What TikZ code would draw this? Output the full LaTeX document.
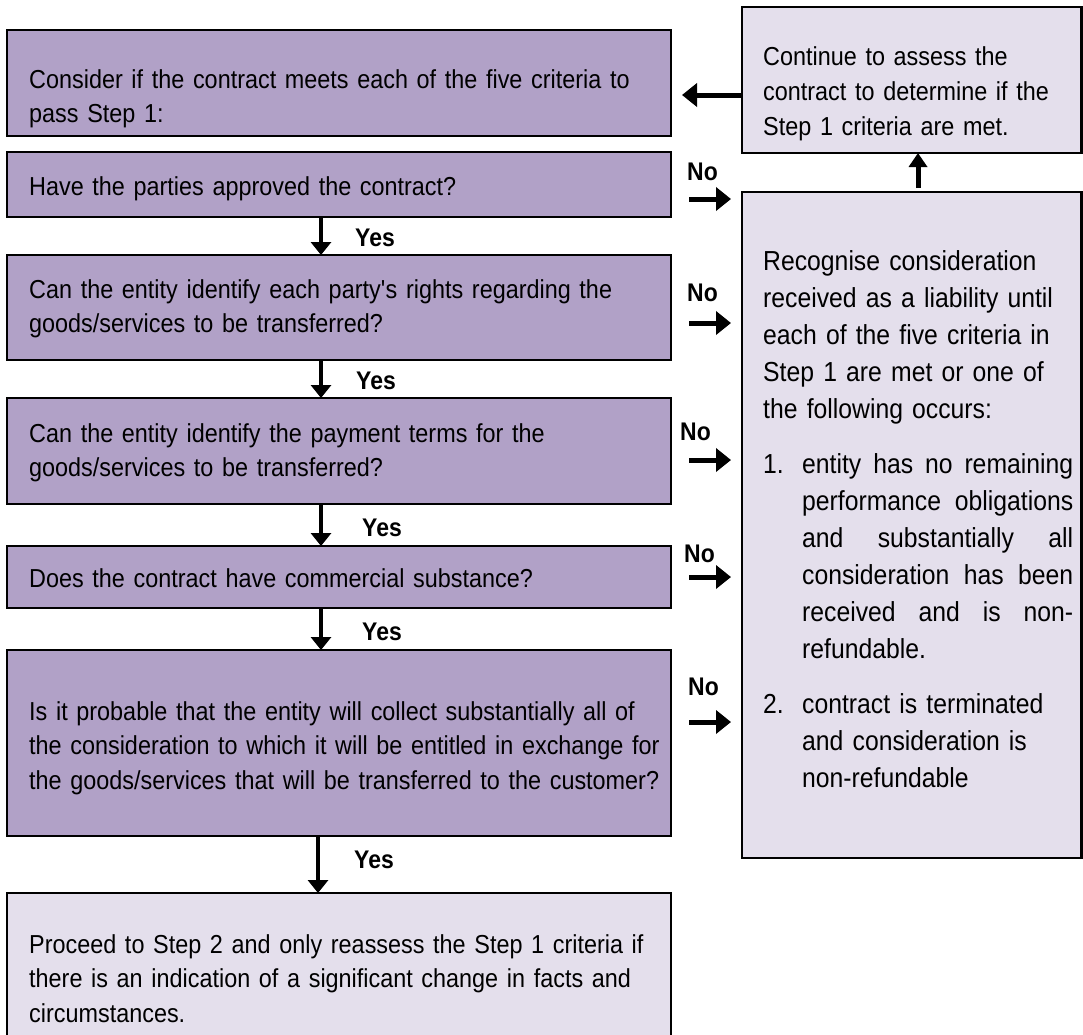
\documentclass[tikz,border=0pt]{standalone}
\usepackage{fontspec}
\setmainfont{Liberation Sans}[FakeStretch=0.9]
\usetikzlibrary{arrows.meta}
\definecolor{dpurp}{HTML}{B1A1C7}
\definecolor{lpurp}{HTML}{E4DFEC}
\newcommand\txtfont{\fontsize{26}{34.5}\selectfont}
\newcommand\rtfont{\fontsize{27.5}{37}\selectfont}
\newcommand\lblfont{\fontsize{25.5}{30}\selectfont\bfseries}
\newcommand\fst{\rule{0pt}{30pt}}
\newcommand\jline[1]{\hbox to 271pt{#1}}
\begin{document}
\begin{tikzpicture}[x=1pt,y=-1pt,
  box/.style={draw=black, line width=2.5pt, inner sep=0pt, outer sep=0pt},
  dbox/.style={box, fill=dpurp, minimum width=664pt},
  lbox/.style={box, fill=lpurp},
  txt/.style={anchor=north west, inner sep=0pt, text width=#1, align=left},
  lbl/.style={anchor=base west, inner sep=0pt, font=\lblfont},
  yarr/.style={line width=4.5pt, -{Triangle[width=20pt,length=13pt]}},
  narr/.style={line width=5pt, -{Triangle[width=23pt,length=15pt]}},
  uarr/.style={line width=5pt, -{Triangle[width=18pt,length=14pt]}},
]
\useasboundingbox (0,0) rectangle (1083,1034);
\fill[white] (0,0) rectangle (1083,1034);

% left column boxes
\node[dbox, minimum height=106pt] (b1) at (339,83) {};
\node[dbox, minimum height=65pt]  (b2) at (339,184.5) {};
\node[dbox, minimum height=105pt] (b3) at (339,307.5) {};
\node[dbox, minimum height=106pt] (b4) at (339,451) {};
\node[dbox, minimum height=62pt]  (b5) at (339,577) {};
\node[dbox, minimum height=186pt] (b6) at (339,743) {};
\node[lbox, minimum width=664pt, minimum height=145pt] (b7) at (339,965.5) {};

% right column boxes
\node[lbox, minimum width=339.5pt, minimum height=146pt] (r1) at (911.75,80) {};
\node[lbox, minimum width=339.5pt, minimum height=666pt] (r2) at (911.75,525) {};

% texts
\node[txt=720pt, font=\txtfont] (t1) at (29,58) {\fst Consider if the contract meets each of the five criteria to\\pass Step 1:};
\node[txt=720pt, font=\txtfont] (t2) at (29,165) {\fst Have the parties approved the contract?};
\node[txt=720pt, font=\txtfont] (t3) at (29,268) {\fst Can the entity identify each party\textquotesingle s rights regarding the\\goods/services to be transferred?};
\node[txt=720pt, font=\txtfont] (t4) at (29,412) {\fst Can the entity identify the payment terms for the\\goods/services to be transferred?};
\node[txt=720pt, font=\txtfont] (t5) at (29,557) {\fst Does the contract have commercial substance?};
\node[txt=720pt, font=\txtfont] (t6) at (29,690) {\fst Is it probable that the entity will collect substantially all of\\the consideration to which it will be entitled in exchange for\\the goods/services that will be transferred to the customer?};
\node[txt=720pt, font=\txtfont] (t7) at (29,923) {\fst Proceed to Step 2 and only reassess the Step 1 criteria if\\there is an indication of a significant change in facts and\\circumstances.};

\node[txt=330pt, font=\fontsize{26}{35}\selectfont] (tr1) at (763,35) {\fst Continue to assess the\\contract to determine if the\\Step 1 criteria are met.};
\node[txt=330pt, font=\rtfont] (tr2) at (763,240) {\fst Recognise consideration\\received as a liability until\\each of the five criteria in\\Step 1 are met or one of\\the following occurs:\\[18pt]
\makebox[39pt][l]{1.}\jline{entity\hfill has\hfill no\hfill remaining}\\
\hspace*{39pt}\jline{performance\hfill obligations}\\
\hspace*{39pt}\jline{and\hfill substantially\hfill all}\\
\hspace*{39pt}\jline{consideration\hfill has\hfill been}\\
\hspace*{39pt}\jline{received\hfill and\hfill is\hfill non-}\\
\hspace*{39pt}refundable.\\[18pt]
\makebox[39pt][l]{2.}contract is terminated\\
\hspace*{39pt}and consideration is\\
\hspace*{39pt}non-refundable};

% Yes arrows
\coordinate (ax) at (321,0);
\coordinate (ax2) at (318,0);
\draw[yarr] (b2.south -| ax) -- (b3.north -| ax);
\draw[yarr] (b3.south -| ax) -- (b4.north -| ax);
\draw[yarr] (b4.south -| ax) -- (b5.north -| ax);
\draw[yarr] (b5.south -| ax) -- (b6.north -| ax);
\draw[yarr] (b6.south -| ax2) -- (b7.north -| ax2);
\node[lbl] (y1) at (355,246) {Yes};
\node[lbl] (y2) at (356,389) {Yes};
\node[lbl] (y3) at (362,536) {Yes};
\node[lbl] (y4) at (362,640) {Yes};
\node[lbl] (y5) at (354,868) {Yes};

% No arrows
\coordinate (n1) at (0,199);
\coordinate (n2) at (0,323);
\coordinate (n3) at (0,460);
\coordinate (n4) at (0,577);
\coordinate (n5) at (0,722);
\draw[narr, shorten <=18pt, shorten >=11pt] (b2.east |- n1) -- (r2.west |- n1);
\draw[narr, shorten <=18pt, shorten >=11pt] (b3.east |- n2) -- (r2.west |- n2);
\draw[narr, shorten <=18pt, shorten >=11pt] (b4.east |- n3) -- (r2.west |- n3);
\draw[narr, shorten <=18pt, shorten >=11pt] (b5.east |- n4) -- (r2.west |- n4);
\draw[narr, shorten <=18pt, shorten >=11pt] (b6.east |- n5) -- (r2.west |- n5);
\node[lbl] (no1) at (687,180) {No};
\node[lbl] (no2) at (687,301) {No};
\node[lbl] (no3) at (680,440) {No};
\node[lbl] (no4) at (684,562) {No};
\node[lbl] (no5) at (688,695) {No};

% right column arrows
\coordinate (ly) at (0,95);
\coordinate (ux) at (918,0);
\draw[narr, shorten >=11pt] (r1.west |- ly) -- (b1.east |- ly);
\draw[uarr, shorten <=4pt] (r2.north -| ux) -- (r1.south -| ux);
\end{tikzpicture}
\end{document}
